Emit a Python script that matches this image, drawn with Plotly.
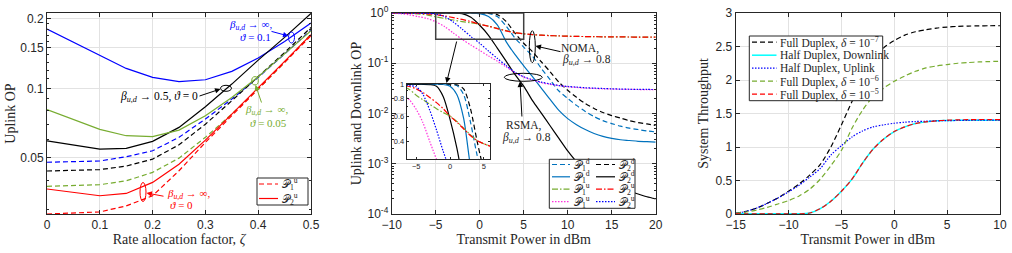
import math
import plotly.graph_objects as go

# ---------------- data: panel (a) uplink OP vs rate allocation factor ----------------
zeta = [0, 0.1, 0.15, 0.2, 0.25, 0.3, 0.35, 0.4, 0.45, 0.5]
a_inf01_P1 = [0.0479, 0.0485, 0.0506, 0.0537, 0.0614, 0.0737, 0.0899, 0.1116, 0.141, 0.1789]
a_inf01_P2 = [0.1807, 0.1394, 0.122, 0.1116, 0.1069, 0.109, 0.1185, 0.1353, 0.1597, 0.1918]
a_05_P1 = [0.0439, 0.0445, 0.0461, 0.0494, 0.057, 0.070, 0.0884, 0.1123, 0.143, 0.1836]
a_05_P2 = [0.0593, 0.0546, 0.0550, 0.059, 0.0678, 0.0833, 0.1044, 0.1326, 0.1663, 0.2112]
a_inf005_P1 = [0.0377, 0.0383, 0.0398, 0.0433, 0.0499, 0.0614, 0.0774, 0.0993, 0.1296, 0.1719]
a_inf005_P2 = [0.0809, 0.0665, 0.0624, 0.0618, 0.066, 0.0762, 0.0914, 0.1123, 0.141, 0.1776]
a_inf0_P1 = [0.0286, 0.0292, 0.031, 0.0343, 0.044, 0.0584, 0.0762, 0.0993, 0.1296, 0.169]
a_inf0_P2 = [0.0367, 0.0343, 0.0351, 0.0392, 0.047, 0.0597, 0.0774, 0.1003, 0.131, 0.1707]

# ---------------- data: panel (b) OP vs transmit power ----------------
pt_b = list(range(-10, 21))
b_noma_P1d = [1, 1, 1, 1, 1, 1, 1, 1, 1, 0.999, 0.995, 0.98, 0.85, 0.55, 0.32, 0.21, 0.138, 0.079, 0.047,
              0.028, 0.02, 0.0145, 0.011, 0.0087, 0.0072, 0.0063, 0.0056, 0.0051, 0.0048, 0.0045, 0.0043]
b_noma_P2d = [1, 1, 1, 1, 1, 1, 1, 1, 1, 1, 1, 0.995, 0.93, 0.68, 0.40, 0.25, 0.17, 0.107, 0.068,
              0.042, 0.029, 0.021, 0.0158, 0.0126, 0.0105, 0.0091, 0.0081, 0.0072, 0.0066, 0.0062, 0.0058]
b_rsma_P1d = [1, 1, 1, 1, 1, 1, 1, 1, 1, 1, 0.97, 0.85, 0.58, 0.27, 0.15, 0.089, 0.054, 0.032, 0.019,
              0.0115, 0.0079, 0.006, 0.0048, 0.004, 0.0035, 0.0032, 0.003, 0.0029, 0.0028, 0.00275, 0.0027]
b_rsma_P2d = [1, 1, 1, 1, 1, 1, 1, 0.995, 0.97, 0.82, 0.57, 0.36, 0.2, 0.11, 0.06, 0.035, 0.018, 0.0102,
              0.0057, 0.0032, 0.0018, 0.0011, 0.00075, 0.00055, 0.00043, 0.00036, 0.00031, 0.00028,
              0.00025, 0.00022, 0.0002]
b_noma_P1u = [1, 0.995, 0.98, 0.96, 0.92, 0.84, 0.78, 0.725, 0.675, 0.635, 0.6, 0.55, 0.495, 0.445, 0.405,
              0.385, 0.37, 0.362, 0.355, 0.35, 0.345, 0.342, 0.34, 0.338, 0.336, 0.335, 0.334, 0.333,
              0.332, 0.331, 0.33]
b_noma_P2u = [1, 1, 0.995, 0.985, 0.965, 0.93, 0.875, 0.81, 0.745, 0.675, 0.6, 0.545, 0.49, 0.44, 0.405,
              0.385, 0.37, 0.362, 0.355, 0.35, 0.345, 0.342, 0.34, 0.338, 0.336, 0.335, 0.334, 0.333,
              0.332, 0.331, 0.33]
b_rsma_P1u = [1, 0.97, 0.92, 0.85, 0.78, 0.67, 0.54, 0.4, 0.3, 0.23, 0.18, 0.14, 0.11, 0.085, 0.065,
              0.053, 0.046, 0.041, 0.038, 0.036, 0.034, 0.033, 0.032, 0.0315, 0.031, 0.0307, 0.0304,
              0.0302, 0.03, 0.0299, 0.0298]
b_rsma_P2u = [1, 1, 0.995, 0.99, 0.98, 0.96, 0.85, 0.66, 0.48, 0.34, 0.25, 0.175, 0.125, 0.09, 0.066,
              0.054, 0.047, 0.042, 0.039, 0.036, 0.0345, 0.0335, 0.0325, 0.032, 0.0315, 0.031, 0.0306,
              0.0304, 0.0302, 0.0301, 0.03]

# ---------------- data: panel (c) system throughput ----------------
pt_c = list(range(-15, 11))
c_fd7 = [0.01, 0.04, 0.09, 0.16, 0.24, 0.34, 0.45, 0.58, 0.74, 1.0, 1.33, 1.68, 2.02, 2.3, 2.48, 2.59,
         2.67, 2.72, 2.75, 2.775, 2.79, 2.8, 2.805, 2.808, 2.81, 2.81]
c_hd_dl = [0.002, 0.002, 0.002, 0.002, 0.002, 0.002, 0.003, 0.015, 0.08, 0.19, 0.34, 0.52, 0.76, 0.97,
           1.12, 1.23, 1.3, 1.35, 1.375, 1.39, 1.395, 1.4, 1.4, 1.4, 1.4, 1.4]
c_hd_ul = [0.01, 0.04, 0.09, 0.16, 0.24, 0.33, 0.43, 0.55, 0.68, 0.88, 1.02, 1.15, 1.24, 1.3, 1.33,
           1.355, 1.37, 1.38, 1.385, 1.39, 1.393, 1.396, 1.398, 1.4, 1.4, 1.4]
c_fd6 = [0.01, 0.03, 0.06, 0.1, 0.15, 0.2, 0.27, 0.37, 0.52, 0.72, 0.95, 1.28, 1.55, 1.75, 1.88, 1.98,
         2.06, 2.13, 2.18, 2.21, 2.23, 2.25, 2.26, 2.27, 2.275, 2.28]
c_fd5 = [0.002, 0.002, 0.002, 0.002, 0.002, 0.002, 0.003, 0.015, 0.08, 0.19, 0.34, 0.52, 0.76, 0.97,
         1.12, 1.23, 1.3, 1.35, 1.375, 1.39, 1.4, 1.405, 1.408, 1.41, 1.41, 1.41]

# ---------------- labels ----------------
P = "𝒫"
leg_a = [P + "<sub>1</sub><sup>u</sup>", P + "<sub>2</sub><sup>u</sup>"]
leg_b = [P + "<sub>1</sub><sup>d</sup>", P + "<sub>2</sub><sup>d</sup>", P + "<sub>1</sub><sup>d</sup>",
         P + "<sub>2</sub><sup>d</sup>", P + "<sub>1</sub><sup>u</sup>", P + "<sub>2</sub><sup>u</sup>",
         P + "<sub>1</sub><sup>u</sup>", P + "<sub>2</sub><sup>u</sup>"]
leg_c = ["Full Duplex, <i>δ</i> = 10<sup>−7</sup>", "Half Duplex, Downlink", "Half Duplex, Uplink",
         "Full Duplex, <i>δ</i> = 10<sup>−6</sup>", "Full Duplex, <i>δ</i> = 10<sup>−5</sup>"]

# ---------------- styling ----------------
W, H = 1012, 253
SANS = "Liberation Sans"
SERIF = "Liberation Serif"
AX = "#262626"
GRID = "#e2e2e2"
DASH = "5px,3px"
DOT = "1.5px,1.5px"
DASHDOT = "6px,2px,1.5px,2px"
MBLUE = "#0072BD"
GREEN = "#77AC30"
MAGENTA = "#FF33DD"
BLUE = "#0000FF"


def px(x):
    return x / W


def py(y):
    return 1 - y / H


fig = go.Figure()


def add(x, y, color, dash, xa, ya, width=1.2, shape="linear"):
    fig.add_trace(go.Scatter(x=x, y=y, mode="lines", xaxis=xa, yaxis=ya, showlegend=False,
                             line=dict(color=color, dash=dash, width=width, shape=shape, smoothing=0.8),
                             hoverinfo="skip"))


# panel a
add(zeta, a_inf01_P2, BLUE, "solid", "x", "y")
add(zeta, a_inf01_P1, BLUE, DASH, "x", "y")
add(zeta, a_05_P2, "black", "solid", "x", "y")
add(zeta, a_05_P1, "black", DASH, "x", "y")
add(zeta, a_inf005_P2, GREEN, "solid", "x", "y")
add(zeta, a_inf005_P1, GREEN, DASH, "x", "y")
add(zeta, a_inf0_P1, "red", DASH, "x", "y")
add(zeta, a_inf0_P2, "red", "solid", "x", "y")

# panel b (main + inset)
series_b = [(b_noma_P1d, MBLUE, DASH), (b_noma_P2d, "black", DASH), (b_rsma_P1d, MBLUE, "solid"),
            (b_rsma_P2d, "black", "solid"), (b_noma_P1u, GREEN, DASHDOT), (b_noma_P2u, "red", DASHDOT),
            (b_rsma_P1u, MAGENTA, DOT), (b_rsma_P2u, BLUE, DOT)]
for ys, col, dsh in series_b:
    add(pt_b, ys, col, dsh, "x2", "y2", shape="spline")
for ys, col, dsh in series_b:
    add(pt_b, ys, col, dsh, "x4", "y4", shape="spline")

# panel c
add(pt_c, c_fd7, "black", DASH, "x3", "y3", shape="spline")
add(pt_c, c_hd_dl, "#00FFFF", "solid", "x3", "y3", width=1.5, shape="spline")
add(pt_c, c_hd_ul, BLUE, DOT, "x3", "y3", shape="spline")
add(pt_c, c_fd6, GREEN, DASH, "x3", "y3", shape="spline")
add(pt_c, c_fd5, "red", DASH, "x3", "y3", shape="spline")


def axis(**kw):
    d = dict(showline=True, linecolor=AX, linewidth=1, mirror="ticks", ticks="inside", ticklen=4,
             tickwidth=1, tickcolor=AX, showgrid=True, gridcolor=GRID, gridwidth=1, zeroline=False,
             automargin=False,
             tickfont=dict(family=SANS, size=12, color=AX),
             title_font=dict(family=SERIF, size=14, color=AX))
    d.update(kw)
    return d


ydom = [py(214), py(13)]

minor_a = [round(0.01 * k, 2) for k in range(3, 21) if k not in (5, 10, 15, 20)]
minor_b = [m * 10 ** e for e in range(-4, 0) for m in range(2, 10)]
minor_in = [0.3, 0.5, 0.7, 0.9]

fig.update_layout(
    template="none",
    width=W, height=H, margin=dict(l=0, r=0, t=0, b=0, autoexpand=False),
    paper_bgcolor="white", plot_bgcolor="white", showlegend=False,
    xaxis=axis(domain=[px(47), px(311)], anchor="y", range=[0, 0.5], tickvals=[0, 0.1, 0.2, 0.3, 0.4, 0.5],
               ticktext=["0", "0.1", "0.2", "0.3", "0.4", "0.5"],
               title=dict(text="Rate allocation factor, <i>ζ</i>", standoff=1)),
    yaxis=axis(domain=ydom, anchor="x", type="log", range=[math.log10(0.0286), math.log10(0.212)],
               tickvals=[0.05, 0.1, 0.15, 0.2], ticktext=["0.05", "0.1", "0.15", "0.2"],
               minor=dict(tickvals=minor_a, ticks="inside", ticklen=2, tickcolor=AX, showgrid=False),
               title=dict(text="Uplink OP", standoff=1)),
    xaxis2=axis(domain=[px(391.7), px(655.7)], anchor="y2", range=[-10, 20], tickvals=list(range(-10, 21, 5)),
                title=dict(text="Transmit Power in dBm", standoff=1)),
    yaxis2=axis(domain=ydom, anchor="x2", type="log", range=[-4, 0],
                tickvals=[1e-4, 1e-3, 1e-2, 1e-1, 1],
                ticktext=["10<sup>-4</sup>", "10<sup>-3</sup>", "10<sup>-2</sup>", "10<sup>-1</sup>",
                          "10<sup>0</sup>"],
                minor=dict(tickvals=minor_b, ticks="inside", ticklen=2, tickcolor=AX, showgrid=False),
                title=dict(text="Uplink and Downlink OP", standoff=2)),
    xaxis3=axis(domain=[px(735.7), px(1000)], anchor="y3", range=[-15, 10], tickvals=list(range(-15, 11, 5)),
                title=dict(text="Transmit Power in dBm", standoff=1)),
    yaxis3=axis(domain=ydom, anchor="x3", range=[0, 3], tickvals=[0, 0.5, 1, 1.5, 2, 2.5, 3],
                ticktext=["0", "0.5", "1", "1.5", "2", "2.5", "3"],
                title=dict(text="System Throughput", standoff=3)),
    xaxis4=axis(domain=[px(406.7), px(490)], anchor="y4", range=[-6.4, 5.9], tickvals=[-5, 0, 5],
                showgrid=False, ticklen=2, tickfont=dict(family=SANS, size=7.5, color=AX)),
    yaxis4=axis(domain=[py(159.3), py(84.3)], anchor="x4", type="log", range=[math.log10(0.3), 0],
                tickvals=[0.4, 0.6, 0.8, 1], ticktext=["0.4", "0.6", "0.8", "1"], showgrid=False, ticklen=2,
                minor=dict(tickvals=minor_in, ticks="inside", ticklen=1.5, tickcolor=AX, showgrid=False),
                tickfont=dict(family=SANS, size=7.5, color=AX)),
)

shapes = []
ann = []


def ellipse(cx, cy, w, h, color):
    shapes.append(dict(type="circle", xref="paper", yref="paper", x0=px(cx - w / 2), x1=px(cx + w / 2),
                       y0=py(cy + h / 2), y1=py(cy - h / 2), line=dict(color=color, width=1)))


def arrow(hx, hy, tx, ty, color):
    ann.append(dict(xref="paper", yref="paper", x=px(hx), y=py(hy), ax=tx - hx, ay=ty - hy, text="",
                    showarrow=True, arrowhead=2, arrowsize=1.1, arrowwidth=1, arrowcolor=color))


def label(x, y, text, color, size=11.5, xanchor="center"):
    ann.append(dict(xref="paper", yref="paper", x=px(x), y=py(y), text=text, showarrow=False,
                    xanchor=xanchor, yanchor="middle", font=dict(family=SERIF, size=size, color=color)))


beta = "<i>β</i><sub><i>u,d</i></sub>"

# panel a annotations
ellipse(291.5, 37.5, 6, 11, BLUE)
arrow(288.5, 36, 270, 31, BLUE)
label(250, 24.5, beta + " → ∞,", BLUE, size=11)
label(256, 36.5, "<i>ϑ</i> = 0.1", BLUE, size=11)
ellipse(226, 88.3, 11, 6, "black")
arrow(220.5, 89, 198, 96.5, "black")
label(159, 96.5, beta + " → 0.5, <i>ϑ</i> = 0", "black")
ellipse(255, 80.8, 6.6, 8.3, GREEN)
arrow(255.5, 85, 262, 104, GREEN)
label(266.5, 110.5, beta + " → ∞,", GREEN, size=11)
label(268.5, 123, "<i>ϑ</i> = 0.05", GREEN, size=11)
ellipse(143, 192, 6, 19, "red")
arrow(146.5, 193, 165, 196.5, "red")
label(188.5, 193.5, beta + " → ∞,", "red", size=11)
label(181.5, 205, "<i>ϑ</i> = 0", "red", size=11)

# panel b annotations
shapes.append(dict(type="rect", xref="x2", yref="y2", x0=-5, x1=5, y0=0.3, y1=1,
                   line=dict(color="#404040", width=1.5)))
arrow(446.5, 83, 457, 40, "black")
ellipse(532.3, 46.7, 6, 32, "black")
arrow(535.5, 46, 562, 52, "black")
label(580, 48, "NOMA,", AX)
label(586, 60, beta + " → 0.8", AX)
ellipse(523.3, 77.3, 38, 8, "black")
arrow(520, 81.5, 522, 118, "black")
label(524, 125, "RSMA,", AX)
label(526, 138, beta + " → 0.8", AX)

# manual legends
def legend_box(x0, y0, x1, y1):
    shapes.append(dict(type="rect", xref="paper", yref="paper", x0=px(x0), x1=px(x1), y0=py(y1), y1=py(y0),
                       line=dict(color=AX, width=1), fillcolor="white", layer="above"))


def legend_item(x0, x1, y, color, dash, text, width=1.2, size=11):
    shapes.append(dict(type="line", xref="paper", yref="paper", x0=px(x0), x1=px(x1), y0=py(y), y1=py(y),
                       line=dict(color=color, dash=dash, width=width), layer="above"))
    label(x1 + 1.5, y, text, AX, size=size, xanchor="left")


legend_box(257, 178, 308, 205)
legend_item(259, 278, 184, "red", DASH, leg_a[0])
legend_item(259, 278, 198.5, "red", "solid", leg_a[1])

legend_box(549.3, 159.3, 635, 208.3)
rows = [164.5, 176.8, 189.2, 201.7]
for i, (ys, col, dsh) in enumerate(series_b):
    r = rows[i // 2]
    if i % 2 == 0:
        legend_item(552, 570, r, col, dsh, leg_b[i])
    else:
        legend_item(596, 615, r, col, dsh, leg_b[i])

legend_box(749.3, 36, 882.7, 100.7)
cols_c = [("black", DASH, 1.2), ("#00FFFF", "solid", 1.5), (BLUE, DOT, 1.2), (GREEN, DASH, 1.2), ("red", DASH, 1.2)]
for i, (col, dsh, wd) in enumerate(cols_c):
    legend_item(752, 776.5, 42.2 + 13 * i, col, dsh, leg_c[i], width=wd, size=11.5)

fig.update_layout(shapes=shapes, annotations=ann)
fig.write_html("out.html")
